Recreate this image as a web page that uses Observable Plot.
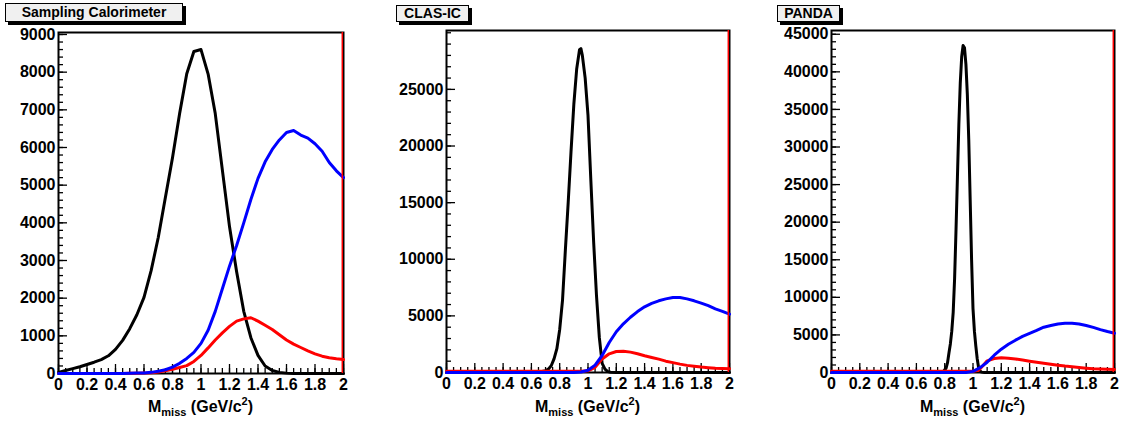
<!DOCTYPE html>
<html><head><meta charset="utf-8">
<script src="https://cdn.jsdelivr.net/npm/d3@7"></script>
<script src="https://cdn.jsdelivr.net/npm/@observablehq/plot@0.6"></script>
<style>
body{margin:0;background:#fff;}
#root{position:relative;width:1122px;height:424px;font-family:"Liberation Sans",Arial,sans-serif;font-weight:bold;color:#000;overflow:hidden;}
.panel{position:absolute;top:0;width:374px;height:424px;}
.panel svg{position:absolute;left:0;top:0;overflow:visible;}
.title{position:absolute;box-sizing:border-box;border:1px solid #000;background:#f0f0f0;box-shadow:3px 3px 0 #000;font-size:14px;text-align:center;white-space:nowrap;}
.xlabel{position:absolute;top:398px;font-size:16px;line-height:18px;text-align:center;white-space:nowrap;}
.xlabel .sub{font-size:11px;position:relative;top:4px;}
.xlabel .sup{font-size:11px;position:relative;top:-7px;}
</style>
</head><body>
<div id="root"></div>
<script>
// ---------- tick labels ----------
const xTicks = [0, 0.2, 0.4, 0.6, 0.8, 1, 1.2, 1.4, 1.6, 1.8, 2];
const xTickLabels = ["0", "0.2", "0.4", "0.6", "0.8", "1", "1.2", "1.4", "1.6", "1.8", "2"];
const yTicks1 = [0, 1000, 2000, 3000, 4000, 5000, 6000, 7000, 8000, 9000];
const yTicks2 = [0, 5000, 10000, 15000, 20000, 25000];
const yTicks3 = [0, 5000, 10000, 15000, 20000, 25000, 30000, 35000, 40000, 45000];
const panelTitles = ["Sampling Calorimeter", "CLAS-IC", "PANDA"];
const redEdge = [2];

// ---------- Panel 1: Sampling Calorimeter ----------
const p1X = [0,0.05,0.1,0.15,0.2,0.25,0.3,0.35,0.4,0.45,0.5,0.55,0.6,0.65,0.7,0.75,0.8,0.85,0.9,0.95,1,1.05,1.1,1.15,1.2,1.25,1.3,1.35,1.4,1.45,1.5,1.55,1.6,1.65,1.7,1.75,1.8,1.85,1.9,1.95,2];
const p1Black = [30,80,130,180,240,300,370,470,640,880,1190,1560,2020,2730,3610,4670,5730,6900,7960,8550,8600,7950,6900,5400,3900,2700,1650,950,480,200,80,30,10,0,0,0,0,0,0,0,0];
const p1Blue = [0,0,0,0,0,0,0,0,0,0,5,10,15,30,60,100,170,270,400,560,800,1150,1650,2250,2850,3400,4000,4620,5180,5620,5950,6200,6400,6450,6330,6250,6100,5900,5600,5380,5200];
const p1Red = [0,0,0,0,0,0,0,0,0,0,5,8,10,20,40,70,110,160,210,320,480,680,890,1080,1250,1390,1450,1480,1390,1280,1170,1030,890,780,690,600,520,460,420,390,370];

// ---------- Panel 2: CLAS-IC ----------
const p2BlackX = [0,0.6,0.65,0.7,0.72,0.74,0.76,0.78,0.8,0.82,0.84,0.86,0.88,0.9,0.92,0.94,0.95,0.96,0.98,1,1.02,1.04,1.06,1.08,1.1,1.12,1.14,1.16,1.2,2];
const p2BlackY = [0,0,30,150,300,600,1200,2100,3800,6400,10800,15000,19500,23700,26800,28500,28600,28000,26000,22700,17000,11500,6800,3100,800,300,80,20,0,0];
const p2BlueX = [0,0.9,0.95,1,1.05,1.1,1.15,1.2,1.25,1.3,1.35,1.4,1.45,1.5,1.55,1.6,1.65,1.7,1.75,1.8,1.85,1.9,1.95,2];
const p2BlueY = [0,0,40,200,650,1500,2650,3600,4300,4880,5380,5800,6100,6330,6500,6620,6620,6500,6330,6130,5900,5620,5400,5150];
const p2RedX = [0,0.95,1,1.05,1.1,1.15,1.2,1.25,1.3,1.35,1.4,1.45,1.5,1.55,1.6,1.65,1.7,1.75,1.8,1.85,1.9,1.95,2];
const p2RedY = [100,100,150,450,1200,1650,1850,1880,1800,1650,1480,1330,1180,1000,870,740,630,550,480,430,380,350,330];

// ---------- Panel 3: PANDA ----------
const p3BlackX = [0,0.77,0.79,0.81,0.82,0.83,0.84,0.85,0.86,0.87,0.88,0.89,0.9,0.91,0.92,0.93,0.94,0.95,0.96,0.97,0.98,0.99,1,1.01,1.02,1.03,1.04,1.05,1.06,1.08,2];
const p3BlackY = [0,0,100,600,1300,2600,3800,5500,8000,12500,19000,26000,33000,38500,42000,43500,43200,41000,37000,31000,23000,15000,8500,5500,3500,1800,600,200,50,0,0];
const p3BlueX = [0,0.95,1,1.05,1.1,1.15,1.2,1.25,1.3,1.35,1.4,1.45,1.5,1.55,1.6,1.65,1.7,1.75,1.8,1.85,1.9,1.95,2];
const p3BlueY = [0,0,150,650,1370,2300,3100,3750,4300,4800,5200,5600,6030,6250,6450,6550,6550,6450,6250,6000,5700,5450,5230];
const p3RedX = [0,1,1.04,1.07,1.1,1.15,1.2,1.25,1.3,1.35,1.4,1.45,1.5,1.55,1.6,1.65,1.7,1.75,1.8,1.85,1.9,1.95,2];
const p3RedY = [150,150,300,900,1550,1850,1950,1900,1800,1650,1500,1370,1240,1100,970,850,760,680,580,500,450,420,400];

const rows = (xs, ys) => xs.map((x, i) => ({x, y: ys[i]}));

const panels = [
  {left: 0, mL: 58, mR: 31, mT: 32, mB: 51, yMax: 9053, yTicks: yTicks1, yMinorStep: 200,
   title: {left: 5, top: 3, width: 178, height: 19},
   black: rows(p1X, p1Black), red: rows(p1X, p1Red), blue: rows(p1X, p1Blue)},
  {left: 374, mL: 72, mR: 19, mT: 30, mB: 52, yMax: 30200, yTicks: yTicks2, yMinorStep: 1000,
   title: {left: 396, top: 5, width: 73, height: 17},
   black: rows(p2BlackX, p2BlackY), red: rows(p2RedX, p2RedY), blue: rows(p2BlueX, p2BlueY)},
  {left: 748, mL: 83, mR: 8, mT: 30, mB: 52, yMax: 45500, yTicks: yTicks3, yMinorStep: 1000,
   title: {left: 777, top: 5, width: 63, height: 17},
   black: rows(p3BlackX, p3BlackY), red: rows(p3RedX, p3RedY), blue: rows(p3BlueX, p3BlueY)}
];

const root = document.getElementById("root");
const W = 374, H = 424;
const xMinor = d3.range(0, 41).map(i => +(i * 0.05).toFixed(2));

panels.forEach((p, k) => {
  const fw = W - p.mL - p.mR, fh = H - p.mT - p.mB;
  const yMinor = d3.range(0, p.yMax + 1, p.yMinorStep);
  const lw = 3;
  const chart = Plot.plot({
    width: W, height: H,
    marginLeft: p.mL, marginRight: p.mR, marginTop: p.mT, marginBottom: p.mB,
    x: {domain: [0, 2]},
    y: {domain: [0, p.yMax]},
    style: {fontFamily: '"Liberation Sans", Arial, sans-serif', fontWeight: "bold", fontSize: "16px", background: "transparent", overflow: "visible", color: "#000"},
    marks: [
      Plot.frame({stroke: "#000", strokeWidth: 2}),
      Plot.tickY(yMinor, {y: d => d, insetRight: fw - 5, stroke: "#000", strokeWidth: 1.3}),
      Plot.tickY(p.yTicks, {y: d => d, insetRight: fw - 9, stroke: "#000", strokeWidth: 1.3}),
      Plot.tickX(xMinor, {x: d => d, insetTop: fh - 5, stroke: "#000", strokeWidth: 1.3}),
      Plot.tickX(xTicks, {x: d => d, insetTop: fh - 9, stroke: "#000", strokeWidth: 1.3}),
      Plot.axisY({ticks: p.yTicks, tickSize: 0, tickPadding: 3, label: null, tickFormat: d => String(d), fontWeight: "bold", fontSize: 16}),
      Plot.axisX({ticks: xTicks, tickSize: 0, tickPadding: 5, label: null, tickFormat: d => xTickLabels[xTicks.indexOf(d)], fontWeight: "bold", fontSize: 16}),
      Plot.line(p.black, {x: "x", y: "y", stroke: "#000000", strokeWidth: lw}),
      Plot.line(p.red, {x: "x", y: "y", stroke: "#ff0000", strokeWidth: lw}),
      Plot.line(p.blue, {x: "x", y: "y", stroke: "#0000ff", strokeWidth: lw}),
      Plot.ruleX(redEdge, {x: d => d, stroke: "#ff0000", strokeWidth: 1.5, dx: -1.2})
    ]
  });
  const div = document.createElement("div");
  div.className = "panel";
  div.style.left = p.left + "px";
  div.appendChild(chart);
  root.appendChild(div);

  const t = document.createElement("div");
  t.className = "title";
  t.style.left = p.title.left + "px";
  t.style.top = p.title.top + "px";
  t.style.width = p.title.width + "px";
  t.style.height = p.title.height + "px";
  t.style.lineHeight = (p.title.height - 2) + "px";
  t.textContent = panelTitles[k];
  root.appendChild(t);

  const xl = document.createElement("div");
  xl.className = "xlabel";
  xl.style.left = (p.left + p.mL) + "px";
  xl.style.width = fw + "px";
  xl.innerHTML = 'M<span class="sub">miss</span> (GeV/c<span class="sup">2</span>)';
  root.appendChild(xl);
});
</script>
</body></html>
